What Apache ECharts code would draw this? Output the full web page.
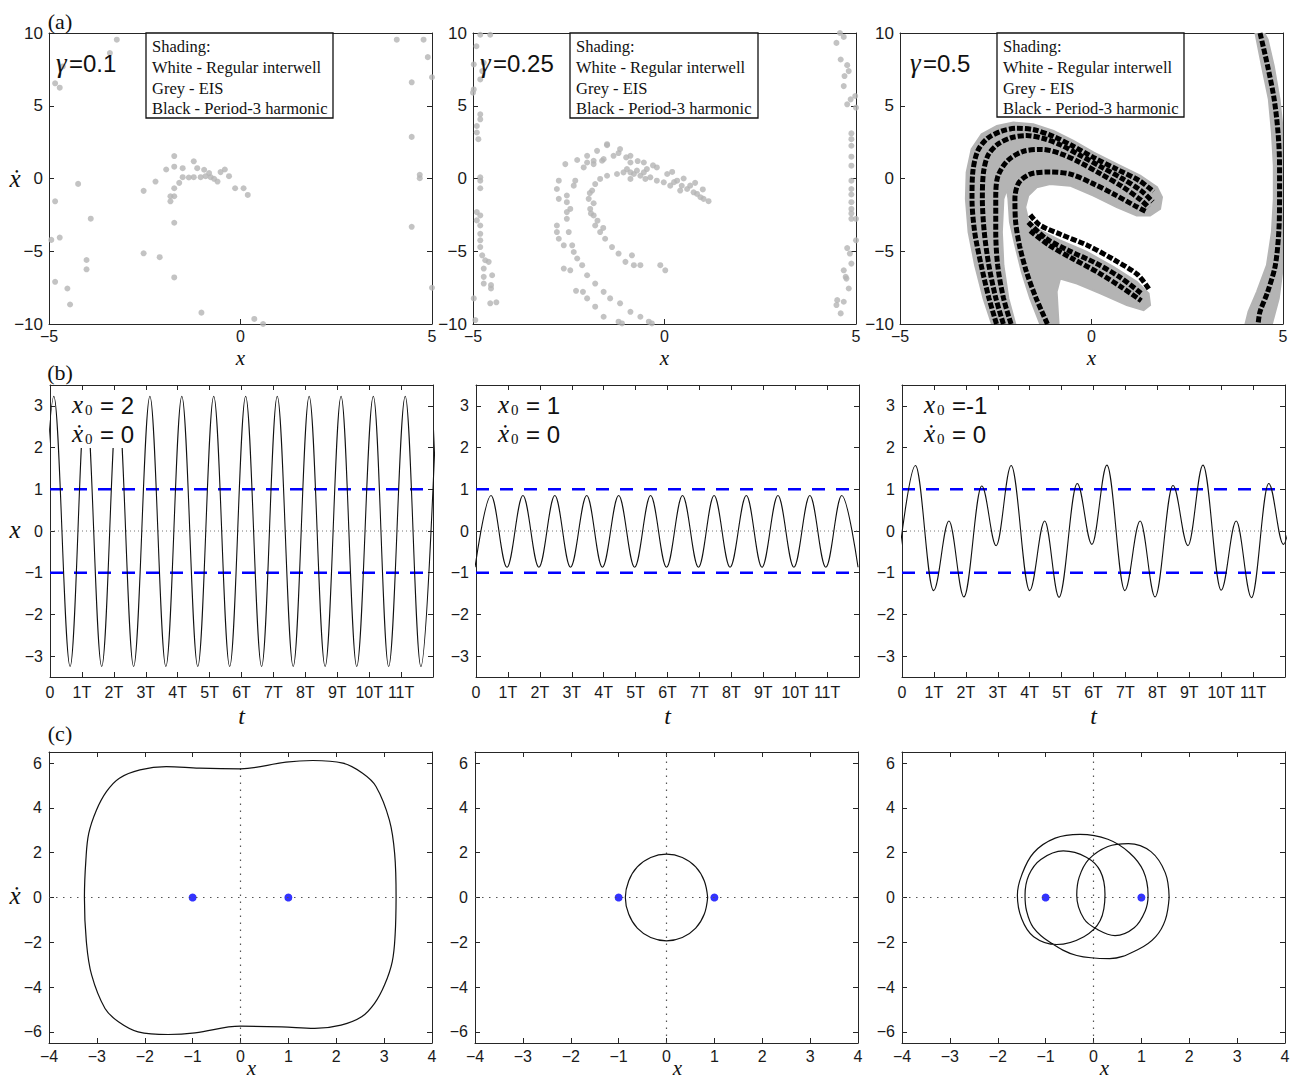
<!DOCTYPE html>
<html>
<head>
<meta charset="utf-8">
<title>Basins, time histories and phase portraits</title>
<script src="https://cdn.jsdelivr.net/npm/echarts@6/dist/echarts.min.js"></script>
<style>
  html, body { margin: 0; padding: 0; background: #fff; }
  #chart { width: 1294px; height: 1081px; }
</style>
</head>
<body>
<div id="chart"></div>
<script>
// ---- data ----

// (a) grey (EIS) initial conditions, gamma = 0.1
var a1Grey = [[-3.23,9.54],[-3.41,8.62],[-4.64,7.70],[-4.84,6.54],[-4.72,6.24],[4.08,9.54],[4.78,9.54],[4.89,8.34],
  [5.0,6.96],[4.47,6.61],[4.47,2.86],[4.68,0.25],[4.68,0.02],[4.47,-3.32],[5.0,-7.51],[-4.24,-0.37],[-4.84,-1.57],
  [-3.91,-2.76],[-4.94,-4.22],[-4.72,-4.06],[-4.02,-5.6],[-4.02,-6.24],[-4.84,-7.10],[-4.52,-7.56],[-4.45,-8.66],
  [-2.53,-5.14],[-2.11,-5.41],[-1.73,-6.80],[-1.02,-9.22],[0.36,-9.65],[0.59,-10.0],[-2.53,-0.85],[-2.22,-0.21],
  [-1.94,0.62],[-1.73,1.54],[-1.73,0.81],[-1.51,0.71],[-1.60,-0.30],[-1.73,-0.67],[-1.83,-1.22],[-1.73,-1.22],
  [-1.83,-1.57],[-1.73,-3.04],[-1.51,0.09],[-1.35,0.07],[-1.22,1.18],[-1.13,0.71],[-1.04,0.09],[-0.95,0.60],
  [-0.91,0.16],[-0.82,0.37],[-0.78,0.09],[-0.69,-0.02],[-0.60,-0.21],[-0.52,0.44],[-0.41,0.62],[-0.30,0.16],
  [-0.14,-0.67],[0.08,-0.67],[0.19,-1.13],[-1.22,0.09]];

// (a) grey initial conditions, gamma = 0.25
var a2Grey = [
  [-4.81,9.88],[-4.55,9.88],[-4.91,9.09],[-4.98,7.84],[-4.72,7.95],[-4.76,7.38],[-4.81,6.81],[-4.98,6.12],[-5.0,5.9],
  [-4.81,4.41],[-4.81,4.07],[-4.90,3.61],[-4.90,3.16],[-4.86,2.70],[-4.81,0.08],[-4.81,-0.15],[-4.81,-0.67],
  [-4.90,-2.31],[-4.81,-2.54],[-4.90,-2.88],[-4.81,-3.23],[-4.81,-3.80],[-4.81,-4.25],[-4.81,-4.71],[-4.76,-5.28],
  [-4.68,-5.62],[-4.59,-5.73],[-4.72,-6.19],[-4.72,-6.76],[-4.50,-6.65],[-4.53,-7.33],[-4.53,-7.56],[-4.98,-8.24],
  [-4.55,-8.58],[-4.39,-8.51],[-4.94,-9.73],[-4.72,-7.22],
  [4.58,10.0],[4.68,9.73],[4.49,9.32],[4.60,8.18],[4.77,7.79],[4.70,7.04],[4.68,6.35],[4.81,7.38],[4.86,5.44],
  [4.77,5.10],[4.98,5.67],[5.0,4.87],[4.88,2.70],[4.88,2.25],[4.88,3.1],[4.88,1.5],[4.88,0.88],[4.88,-0.15],
  [4.88,-0.72],[4.88,-1.1],[4.88,-1.63],[4.88,-2.09],[4.88,-2.4],[4.88,-2.77],[5.0,-2.77],[5.0,-4.25],[4.77,-4.78],
  [4.84,-5.16],[4.88,-5.85],[4.68,-6.31],[4.73,-6.76],[4.81,-7.56],[4.51,-8.36],[4.68,-8.47],[4.49,-8.70],
  [4.60,-9.27],[4.75,-6.88],
  [-1.50,2.29],[-1.76,1.90],[-2.02,1.56],[-2.28,1.27],[-2.59,0.99],[-2.76,-0.15],[-2.81,-0.72],[-2.76,-1.40],
  [-2.81,-3.23],[-2.81,-3.68],[-2.76,-4.14],[-2.63,-6.19],[-2.46,-6.31],[-2.31,-7.72],[-2.13,-7.79],[-2.02,-8.24],
  [-1.81,-8.81],[-1.59,-9.50],[-1.20,-9.84],[-1.11,-9.96],
  [-0.46,0.65],[-0.89,1.10],[-1.33,1.56],[-1.59,1.33],[-1.85,0.99],[-2.11,0.76],[-2.33,-0.15],[-2.55,-1.17],
  [-2.55,-1.63],[-2.55,-2.31],[-2.55,-2.77],[-2.50,-3.68],[-2.41,-4.59],[-2.28,-5.50],[-2.15,-5.96],[-2.02,-6.65],
  [-1.81,-7.22],[-1.59,-7.79],[-1.42,-8.24],[-1.16,-8.58],[-0.89,-9.16],[-0.63,-9.50],[-0.41,-9.84],[-0.33,-9.96],
  [1.15,-1.56],[0.94,-1.29],[0.76,-0.95],[0.59,-0.72],[0.41,-0.83],[0.15,-0.49],[-0.02,-0.26],[-0.20,-0.15],
  [-0.37,0.08],[-0.54,0.42],[-0.72,0.54],[-0.89,0.42],[-1.07,0.42],[-1.24,0.31],[-1.50,0.19],[-1.68,-0.03],
  [-1.81,-0.38],[-1.89,-0.83],[-1.98,-1.40],[-1.94,-2.09],[-1.85,-2.54],[-1.81,-3.23],[-1.68,-3.68],[-1.55,-4.14],
  [-1.37,-4.71],[-1.20,-5.16],[-1.02,-5.73],[-0.80,-5.96],[-0.63,-5.96],[-0.85,-5.28],[-0.11,-5.96],[0.02,-6.31],
  [-1.50,2.36],[-1.16,2.02],[-0.89,1.56],[-0.54,1.10],[-0.20,0.76],[0.07,0.31],[0.33,-0.15],[0.67,-0.49],
  [0.85,-1.06],[1.02,-1.40],[-2.02,1.10],[-1.85,1.22],[-1.63,1.22],[-0.98,0.65],[-0.80,0.31],[-0.63,0.19],
  [-0.89,-0.03],[-0.50,-0.03],[-2.37,-0.49],[-2.46,-2.09],[-2.63,-4.59],[-2.37,-5.05],
  [-1.95,-1.0],[-1.85,-1.7],[-1.92,-2.4],[-1.75,-2.9],[-1.6,-3.4],[-1.2,1.75],[-1.0,1.45],[-0.7,1.2],[-0.3,0.9],
  [0.2,0.45],[0.5,0.0],[0.8,-0.3],[1.0,-0.75],[0.45,-0.5],[0.25,-0.25]];

// (a) gamma = 0.5: outlines of the shaded (grey) regions and the black streaks inside them
var a3Left = [[-2.60,-10],[-2.82,-8.24],[-3.04,-5.96],[-3.21,-3.68],[-3.28,-1.40],[-3.26,0.42],[-3.13,2.02],
  [-2.87,3.04],[-2.47,3.61],[-2.04,3.84],[-1.52,3.73],[-0.99,3.27],[-0.47,2.59],[0.05,1.79],[0.66,0.99],[1.27,0.19],
  [1.71,-0.60],[1.84,-1.29],[1.79,-2.09],[1.53,-2.54],[1.18,-2.54],[0.66,-1.97],[0.05,-1.17],[-0.56,-0.49],
  [-1.08,-0.38],[-1.43,-0.60],[-1.65,-1.17],[-1.73,-1.97],[-1.65,-2.88],[-1.34,-3.57],[-0.82,-4.25],[-0.12,-5.05],
  [0.57,-6.08],[1.18,-7.10],[1.49,-7.90],[1.53,-8.70],[1.36,-9.04],[0.92,-8.70],[0.23,-7.90],[-0.38,-7.22],
  [-0.82,-6.88],[-0.91,-7.79],[-0.86,-10],[-1.34,-10],[-1.60,-8.24],[-1.82,-6.42],[-1.99,-4.60],[-2.13,-3.00],
  [-2.17,-1.40],[-2.21,-0.72],[-2.30,-1.40],[-2.34,-3.68],[-2.30,-5.96],[-2.17,-8.24],[-1.99,-10]];
var a3Right = [[4.28,10],[4.45,7.72],[4.63,5.44],[4.71,3.16],[4.76,0.88],[4.76,-1.40],[4.71,-3.68],[4.58,-5.96],
  [4.32,-7.79],[4.10,-9.15],[4.02,-10],[4.71,-10],[4.89,-8.24],[5.0,-5.96],[5.0,-3.68],[5.0,0.88],[5.0,3.16],
  [4.91,5.44],[4.76,7.72],[4.60,9.54],[4.51,10]];
var a3Marks = [
  [[-2.48,-10],[-2.68,-8.2],[-2.88,-5.96],[-3.05,-3.68],[-3.12,-1.4],[-3.1,0.42],[-2.97,1.9],[-2.72,2.75],[-2.35,3.25],
   [-1.95,3.45],[-1.5,3.35],[-1.0,2.9],[-0.5,2.25],[0.05,1.45],[0.65,0.65],[1.25,-0.15],[1.62,-0.9]],
  [[-2.3,-10],[-2.5,-8.2],[-2.68,-5.96],[-2.8,-3.68],[-2.85,-1.4],[-2.82,0.42],[-2.7,1.6],[-2.45,2.35],[-2.1,2.8],
   [-1.7,2.95],[-1.25,2.75],[-0.8,2.3],[-0.3,1.6],[0.25,0.8],[0.8,0.0],[1.3,-0.85],[1.6,-1.6]],
  [[-2.1,-10],[-2.3,-8.2],[-2.45,-5.96],[-2.5,-3.68],[-2.5,-1.4],[-2.45,0.1],[-2.2,1.2],[-1.8,1.85],[-1.3,2.0],
   [-0.8,1.7],[-0.3,1.1],[0.25,0.3],[0.8,-0.55],[1.3,-1.5],[1.5,-2.0]],
  [[-1.15,-10],[-1.45,-8.2],[-1.7,-6.4],[-1.88,-4.6],[-1.98,-3.0],[-2.0,-1.4],[-1.9,-0.3],[-1.6,0.3],[-1.1,0.45],
   [-0.55,0.3],[0.0,-0.3],[0.6,-1.1],[1.15,-1.9],[1.45,-2.3]],
  [[-1.6,-2.5],[-1.35,-3.2],[-0.8,-3.85],[-0.1,-4.6],[0.6,-5.6],[1.2,-6.6],[1.5,-7.6]],
  [[-1.65,-3.0],[-1.2,-4.1],[-0.6,-4.95],[0.1,-5.8],[0.75,-6.8],[1.3,-7.9]],
  [[-1.6,-3.6],[-1.1,-4.6],[-0.5,-5.5],[0.2,-6.5],[0.8,-7.5],[1.3,-8.4]],
  [[4.4,10],[4.6,7.72],[4.77,5.44],[4.87,3.16],[4.91,0.88],[4.91,-1.4],[4.89,-3.68],[4.8,-5.96],[4.6,-7.79],
   [4.4,-9.15],[4.35,-10]]];

var gammaValues = ['=0.1', '=0.25', '=0.5'];
var shadingLines = ['Shading:', 'White - Regular interwell', 'Grey - EIS', 'Black - Period-3 harmonic'];

// (b) time histories: turning points (t in forcing periods T, x)
var bT1 = [-0.38,0.12,0.63,1.12,1.62,2.12,2.62,3.13,3.63,4.13,4.63,5.13,5.63,6.13,6.63,7.12,7.62,8.12,8.62,9.12,
  9.61,10.13,10.61,11.13,11.62,12.12];
var bX1 = [-3.25,3.23,-3.25,3.23,-3.25,3.23,-3.25,3.23,-3.25,3.23,-3.25,3.23,-3.25,3.23,-3.25,3.23,-3.25,3.23,
  -3.25,3.23,-3.25,3.23,-3.25,3.23,-3.25,3.23];
var bT2 = [-0.03,0.47,0.97,1.47,1.97,2.47,2.96,3.47,3.96,4.47,4.97,5.47,5.97,6.47,6.97,7.46,7.96,8.47,8.96,9.46,
  9.96,10.46,10.96,11.46,11.97];
var bX2 = [-0.87,0.85,-0.87,0.85,-0.87,0.85,-0.87,0.85,-0.87,0.85,-0.87,0.85,-0.87,0.85,-0.87,0.85,-0.87,0.85,
  -0.87,0.85,-0.87,0.85,-0.87,0.85,-0.87];
var bT3 = [-0.05,0.42,0.99,1.47,1.94,2.50,2.95,3.42,4.00,4.47,4.92,5.49,5.95,6.42,6.98,7.46,7.93,8.49,8.96,9.43,
  10.0,10.47,10.95,11.49,11.95,12.42];
var bX3 = [-0.35,1.57,-1.43,0.24,-1.58,1.08,-0.35,1.57,-1.43,0.24,-1.59,1.14,-0.32,1.58,-1.43,0.24,-1.58,1.09,
  -0.35,1.58,-1.42,0.24,-1.60,1.14,-0.32,1.57];
var thresholds = [1, -1];
var initValues = ['= 2', '= 1', '=-1'];

// (c) phase portraits (x, xdot), closed orbits
var c1Orbit = [[3.25,0],[3.22,1.96],[3.11,3.46],[2.83,4.96],[2.55,5.55],[2.14,6.0],[1.51,6.12],[0.95,6.05],[0,5.75],
  [-0.86,5.78],[-1.55,5.85],[-2.1,5.70],[-2.53,5.33],[-2.8,4.73],[-3.01,3.9],[-3.17,2.86],[-3.23,1.66],[-3.26,0],
  [-3.22,-1.96],[-3.11,-3.46],[-2.83,-4.96],[-2.55,-5.55],[-2.14,-6.0],[-1.51,-6.12],[-0.95,-6.05],[0,-5.75],
  [0.86,-5.78],[1.55,-5.85],[2.1,-5.70],[2.53,-5.33],[2.8,-4.73],[3.01,-3.9],[3.17,-2.86],[3.23,-1.66],[3.25,0]];
var c2Orbit = [[0.86,0],[0.79,0.74],[0.61,1.37],[0.33,1.79],[0,1.94],[-0.33,1.79],[-0.61,1.37],[-0.79,0.74],
  [-0.86,0],[-0.79,-0.74],[-0.61,-1.37],[-0.33,-1.79],[0,-1.94],[0.33,-1.79],[0.61,-1.37],[0.79,-0.74],[0.86,0]];
var c3Orbit = [[1.58,0],[1.5,-1.0],[1.3,-1.75],[0.95,-2.3],[0.34,-2.73],[-0.35,-2.59],[-0.91,-2.0],[-1.26,-1.33],
  [-1.4,-0.58],[-1.43,0.1],[-1.35,1.0],[-1.1,1.7],[-0.63,2.08],[-0.15,1.8],[0.14,1.19],[0.24,0.15],[0.14,-1.03],
  [-0.2,-1.75],[-0.77,-2.1],[-1.25,-1.75],[-1.5,-0.95],[-1.59,0.1],[-1.5,1.0],[-1.25,2.0],[-0.8,2.65],[-0.28,2.82],
  [0.3,2.6],[0.75,2.0],[1.04,1.19],[1.14,0.1],[1.08,-0.6],[0.85,-1.35],[0.45,-1.70],[0.1,-1.45],[-0.2,-0.95],
  [-0.35,0.1],[-0.3,0.9],[-0.1,1.7],[0.3,2.28],[0.73,2.41],[1.2,2.05],[1.5,1.1],[1.58,0]];
var wells = [[-1, 0], [1, 0]];

// tick values and labels
var aTicksX = [-5, 0, 5];
var aTicksY = [-10, -5, 0, 5, 10];
var bTicksX = [0, 1, 2, 3, 4, 5, 6, 7, 8, 9, 10, 11, 12];
var bTickLabels = ['0', '1T', '2T', '3T', '4T', '5T', '6T', '7T', '8T', '9T', '10T', '11T', ''];
var bTicksY = [-3, -2, -1, 0, 1, 2, 3];
var cTicksX = [-4, -3, -2, -1, 0, 1, 2, 3, 4];
var cTicksY = [-6, -4, -2, 0, 2, 4, 6];

// ---- layout ----
var sans = "'Liberation Sans', Arial, Helvetica, sans-serif";
var serif = "'Liberation Serif', 'Times New Roman', 'DejaVu Serif', serif";
var W = 383;
var rowsLayout = [
  { top: 33, height: 291, lefts: [49, 473, 900] },
  { top: 385, height: 292, lefts: [50, 476, 902] },
  { top: 752, height: 291, lefts: [49, 475, 902] }
];

function minusFmt(v) {
  return v < 0 ? '\u2212' + Math.abs(v) : String(v);
}
function tFmt(v) {
  return bTickLabels[bTicksX.indexOf(v)] || '';
}

var rowAxes = [
  { x: { min: -5, max: 5, ticks: aTicksX, margin: 4, fs: 16 }, y: { min: -10, max: 10, ticks: aTicksY, margin: 6, fs: 17 } },
  { x: { min: 0, max: 12, ticks: bTicksX, margin: 7, fs: 16, fmt: tFmt }, y: { min: -3.5, max: 3.5, ticks: bTicksY, margin: 7, fs: 16 } },
  { x: { min: -4, max: 4, ticks: cTicksX, margin: 5, fs: 16 }, y: { min: -6.5, max: 6.5, ticks: cTicksY, margin: 7, fs: 16 } }
];

function makeAxis(g, pos, spec, withLabels) {
  return {
    type: 'value', gridIndex: g, position: pos, min: spec.min, max: spec.max,
    axisLine: { show: true, onZero: false, lineStyle: { color: '#262626', width: 1 } },
    axisTick: { show: true, inside: true, length: 5, customValues: spec.ticks, lineStyle: { color: '#262626', width: 1 } },
    axisLabel: { show: withLabels, customValues: spec.ticks, formatter: spec.fmt || minusFmt,
      color: '#1a1a1a', fontFamily: sans, fontSize: spec.fs, margin: spec.margin },
    splitLine: { show: false },
    axisPointer: { show: false }
  };
}

var grids = [], xAxes = [], yAxes = [], series = [], graphics = [];
rowsLayout.forEach(function (row, r) {
  row.lefts.forEach(function (left) {
    var g = grids.length;
    var ax = rowAxes[r];
    grids.push({ left: left, top: row.top, width: W, height: row.height, outerBoundsMode: 'none', containLabel: false });
    xAxes.push(makeAxis(g, 'bottom', ax.x, true), makeAxis(g, 'top', ax.x, false));
    yAxes.push(makeAxis(g, 'left', ax.y, true), makeAxis(g, 'right', ax.y, false));
  });
});

function on(g, obj) {
  obj.xAxisIndex = 2 * g;
  obj.yAxisIndex = 2 * g;
  obj.silent = true;
  obj.animation = false;
  return obj;
}
function pairs(ts, xs) {
  return ts.map(function (t, i) { return [t, xs[i]]; });
}
function plainLine(g, data, style, extra) {
  var s = on(g, { type: 'line', data: data, showSymbol: false, symbol: 'none', lineStyle: style });
  for (var k in extra) s[k] = extra[k];
  return s;
}

// (a) row
series.push(on(0, { type: 'scatter', data: a1Grey, symbolSize: 6, itemStyle: { color: '#b4b4b4' }, clip: false }));
series.push(on(1, { type: 'scatter', data: a2Grey, symbolSize: 6, itemStyle: { color: '#b4b4b4' }, clip: false }));
[a3Left, a3Right].forEach(function (outline) {
  series.push(on(2, {
    type: 'custom', clip: true, data: [[0, 0]],
    renderItem: function (params, api) {
      return {
        type: 'polygon',
        shape: { points: outline.map(function (p) { return api.coord(p); }) },
        style: { fill: '#b4b4b4', stroke: '#b4b4b4', lineWidth: 2 }
      };
    }
  }));
});
a3Marks.forEach(function (m) {
  series.push(plainLine(2, m, { color: '#000', width: 5, type: [6, 2] }, { smooth: 0.3 }));
});

// (b) row
[[bT1, bX1], [bT2, bX2], [bT3, bX3]].forEach(function (tx, c) {
  var g = 3 + c;
  series.push(plainLine(g, [[0, 0], [12, 0]], { color: '#777', width: 1, type: [1, 3] }));
  thresholds.forEach(function (h) {
    series.push(plainLine(g, [[0, h], [12, h]], { color: '#0000ff', width: 2.5, type: [13, 11] }));
  });
  series.push(plainLine(g, pairs(tx[0], tx[1]), { color: '#111', width: 1.1 },
    { smooth: 0.36, smoothMonotone: 'x' }));
});

// (c) row
[c1Orbit, c2Orbit, c3Orbit].forEach(function (orbit, c) {
  var g = 6 + c;
  series.push(plainLine(g, [[-4, 0], [4, 0]], { color: '#555', width: 1.2, type: [1.5, 5.5] }));
  series.push(plainLine(g, [[0, -6.5], [0, 6.5]], { color: '#555', width: 1.2, type: [1.5, 5.5] }));
  series.push(plainLine(g, orbit, { color: '#111', width: 1.2 }, { smooth: 0.38 }));
  series.push(on(g, { type: 'scatter', data: wells, symbolSize: 8, itemStyle: { color: '#0000ff' }, clip: false }));
});

// ---- texts ----
function txt(x, y, text, font, align, extra) {
  var el = { type: 'text', x: x, y: y, z: 100,
    style: { text: text, font: font, fill: '#111', align: align || 'center', verticalAlign: 'middle' } };
  for (var k in extra) el.style[k] = extra[k];
  return el;
}
graphics.push(txt(60, 21, '(a)', '22px ' + serif), txt(60, 372, '(b)', '22px ' + serif), txt(60, 733, '(c)', '22px ' + serif));

// axis titles; the bottom row's sits just right of the "0" tick label so both stay clear
var nameY = [358, 716, 1068];
var nameDx = [0, 0, 11];
var nameSize = [21, 24, 21];
var nameTxt = ['x', 't', 'x'];
rowsLayout.forEach(function (row, r) {
  row.lefts.forEach(function (left) {
    graphics.push(txt(left + W / 2 + nameDx[r], nameY[r], nameTxt[r], 'italic ' + nameSize[r] + 'px ' + serif));
  });
});
graphics.push(txt(15, 178, '\u1E8B', 'italic 25px ' + serif), txt(15, 529, 'x', 'italic 25px ' + serif),
  txt(15, 895, '\u1E8B', 'italic 25px ' + serif));

// gamma labels and shading key
var gammaX = [56, 480, 910];
var keyBoxes = [[146, 33, 187, 85], [570, 33, 188, 85], [997, 33, 187, 84]];
gammaValues.forEach(function (gv, c) {
  graphics.push(txt(gammaX[c], 63, '\u03B3', 'italic 27px ' + serif, 'left'));
  graphics.push(txt(gammaX[c] + 13, 63, gv, '24px ' + sans, 'left'));
  var b = keyBoxes[c];
  graphics.push({ type: 'rect', z: 99, shape: { x: b[0], y: b[1], width: b[2], height: b[3] },
    style: { fill: '#fff', stroke: '#111', lineWidth: 1.3 } });
  graphics.push({ type: 'text', x: b[0] + 6, y: b[1] + 3.5, z: 100,
    style: { text: shadingLines.join('\n'), font: '16.5px ' + serif, fill: '#111', align: 'left',
      verticalAlign: 'top', lineHeight: 20.6 } });
});

// initial condition labels in (b)
rowsLayout[1].lefts.forEach(function (left, c) {
  var x0 = left + 22;
  graphics.push({ type: 'rect', z: 98, shape: { x: x0 - 2, y: 392, width: 68, height: 56 }, style: { fill: '#fff' } });
  graphics.push(txt(x0, 404, 'x', 'italic 25px ' + serif, 'left'));
  graphics.push(txt(x0 + 13, 410, '0', '15px ' + serif, 'left'));
  graphics.push(txt(x0 + 28, 405, initValues[c], '24px ' + sans, 'left'));
  graphics.push(txt(x0, 433, '\u1E8B', 'italic 25px ' + serif, 'left'));
  graphics.push(txt(x0 + 13, 439, '0', '15px ' + serif, 'left'));
  graphics.push(txt(x0 + 28, 434, '= 0', '24px ' + sans, 'left'));
});

var chart = echarts.init(document.getElementById('chart'), null, { renderer: 'svg' });
chart.setOption({
  backgroundColor: '#fff',
  animation: false,
  grid: grids,
  xAxis: xAxes,
  yAxis: yAxes,
  series: series,
  graphic: graphics
});
</script>
</body>
</html>
